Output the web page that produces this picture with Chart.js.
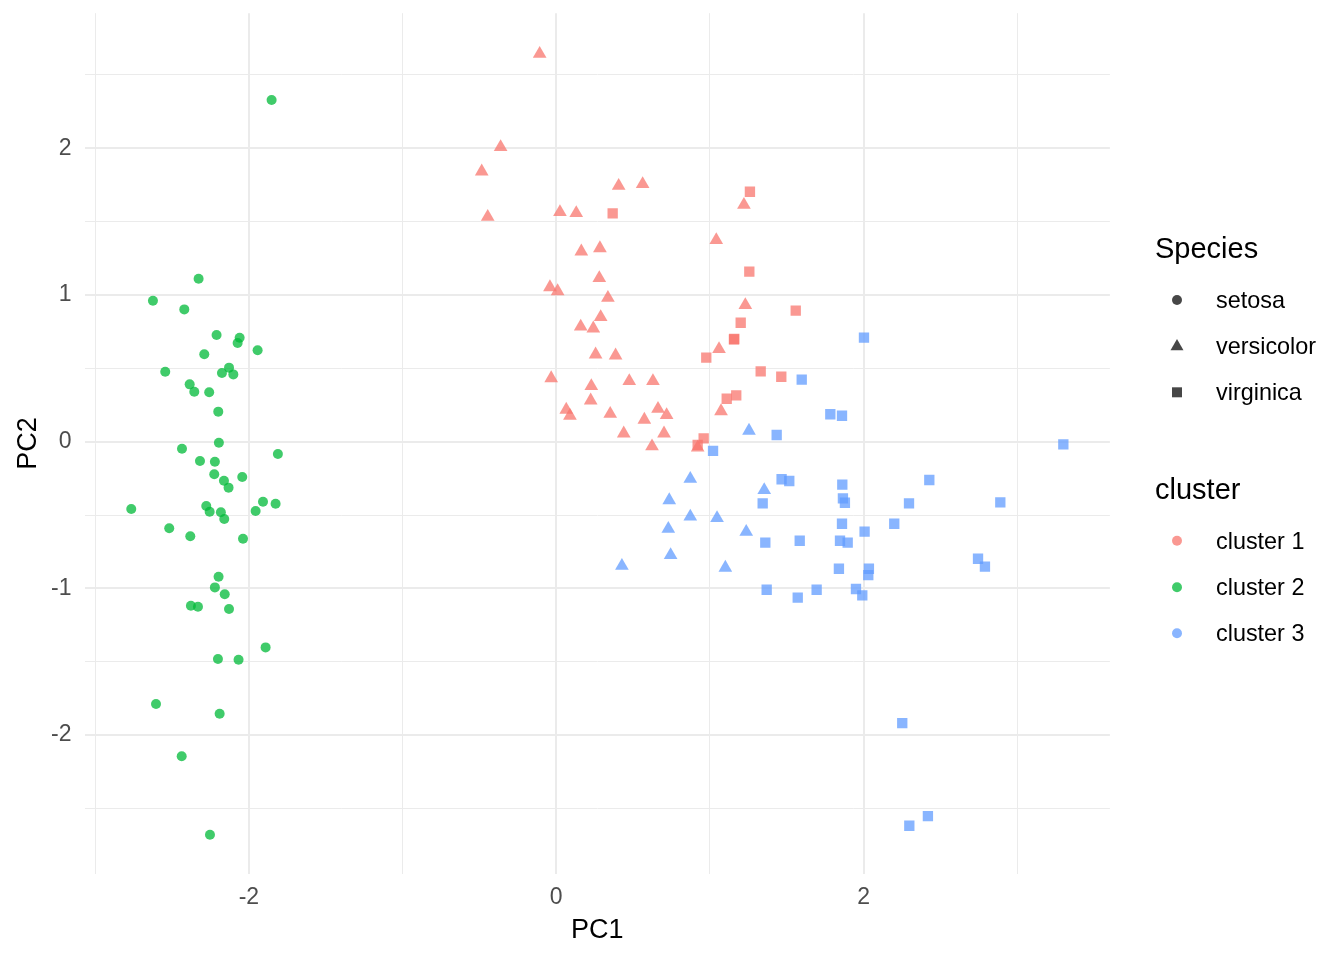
<!DOCTYPE html>
<html>
<head>
<meta charset="utf-8">
<script src="https://cdn.jsdelivr.net/npm/chart.js@4.4.1/dist/chart.umd.min.js"></script>
<style>
  html, body { margin: 0; padding: 0; background: #ffffff; }
  #wrap { position: relative; width: 1344px; height: 960px; }
</style>
</head>
<body>
<div id="wrap"><canvas id="c" width="1344" height="960"></canvas></div>
<script>
// ---------------- data ----------------
const speciesNames = ["setosa", "versicolor", "virginica"];
const clusterNames = ["cluster 1", "cluster 2", "cluster 3"];

const setosaPC1 = [-1.852, -2.327, -2.624, -2.420, -2.210, -2.060, -2.073, -2.290, -1.943, -2.544,
                   -2.129, -2.175, -2.101, -2.385, -2.355, -2.258, -2.199, -2.195, -2.435, -1.811,
                   -2.318, -2.221, -2.225, -2.043, -2.162, -2.132, -1.908, -1.826, -2.765, -2.277,
                   -2.255, -2.182, -2.160, -1.956, -2.518, -2.381, -2.038, -2.197, -2.221, -2.157,
                   -2.377, -2.331, -2.129, -1.891, -2.201, -2.067, -2.604, -2.190, -2.437, -2.253];
const setosaPC2 = [2.329, 1.111, 0.961, 0.902, 0.727, 0.709, 0.673, 0.596, 0.623, 0.477,
                   0.505, 0.468, 0.459, 0.391, 0.341, 0.337, 0.205, -0.007, -0.048, -0.084,
                   -0.132, -0.136, -0.222, -0.241, -0.266, -0.313, -0.409, -0.423, -0.459, -0.438,
                   -0.477, -0.481, -0.527, -0.472, -0.590, -0.645, -0.661, -0.920, -0.993, -1.040,
                   -1.118, -1.125, -1.140, -1.402, -1.481, -1.486, -1.788, -1.854, -2.144, -2.679];
const setosaCluster = [2,2,2,2,2,2,2,2,2,2, 2,2,2,2,2,2,2,2,2,2, 2,2,2,2,2,2,2,2,2,2,
                       2,2,2,2,2,2,2,2,2,2, 2,2,2,2,2,2,2,2,2,2];

const versicolorPC1 = [-0.108, -0.362, -0.485, -0.446, 0.406, 0.562, 0.024, 0.130, 0.163, 0.284,
                       0.280, -0.041, 0.009, 0.336, 0.289, 0.159, 0.241, 0.256, 0.386, -0.033,
                       0.228, 0.475, 0.629, 0.224, 0.065, 0.089, 0.351, 0.573, 0.439, 0.623,
                       1.221, 1.041, 1.230, 1.059, 0.662, 0.718, 1.072, 0.701, 0.920,
                       1.254, 0.872, 1.353, 0.735, 0.872, 1.046, 0.729, 1.236, 0.744, 0.427, 1.100];
const versicolorPC2 = [2.644, 2.008, 1.842, 1.533, 1.744, 1.756, 1.565, 1.558, 1.297, 1.319,
                       1.115, 1.053, 1.026, 0.981, 0.849, 0.785, 0.772, 0.595, 0.588, 0.433,
                       0.379, 0.413, 0.413, 0.281, 0.218, 0.177, 0.190, 0.150, 0.056, -0.032,
                       1.615, 1.374, 0.931, 0.631, 0.224, 0.181, 0.208, 0.056, -0.040,
                       0.075, -0.253, -0.330, -0.399, -0.510, -0.521, -0.594, -0.614, -0.773, -0.846, -0.859];
const versicolorCluster = [1,1,1,1,1,1,1,1,1,1, 1,1,1,1,1,1,1,1,1,1, 1,1,1,1,1,1,1,1,1,1,
                           1,1,1,1,1,1,1,1,1, 3,3,3,3,3,3,3,3,3,3,3];

const virginicaPC1 = [0.367, 1.260, 1.256, 1.558, 1.200, 1.156, 1.158, 0.976, 1.330, 1.464,
                      1.171, 1.109, 0.959, 0.920,
                      1.597, 1.434, 1.020, 1.466, 1.516, 1.343, 1.360, 1.584, 1.369, 1.571,
                      1.694, 2.002, 1.783, 1.859, 3.299, 1.861, 1.865, 1.878, 2.427, 2.295,
                      2.889, 1.859, 2.199, 2.006, 1.846, 1.896, 2.744, 2.789, 1.839, 2.034,
                      2.030, 1.950, 1.991, 2.251, 2.418, 2.297];
const virginicaPC2 = [1.557, 1.704, 1.159, 0.893, 0.811, 0.698, 0.700, 0.573, 0.480, 0.443,
                      0.316, 0.293, 0.023, -0.022,
                      0.423, 0.046, -0.063, -0.256, -0.268, -0.420, -0.688, -0.675, -1.009, -1.063,
                      -1.009, 0.709, 0.187, 0.177, -0.018, -0.293, -0.386, -0.416, -0.261, -0.420,
                      -0.413, -0.559, -0.559, -0.613, -0.675, -0.688, -0.798, -0.852, -0.866, -0.866,
                      -0.909, -1.004, -1.047, -1.918, -2.552, -2.618];
const virginicaCluster = [1,1,1,1,1,1,1,1,1,1, 1,1,1,1,
                          3,3,3,3,3,3,3,3,3,3, 3,3,3,3,3,3,3,3,3,3,
                          3,3,3,3,3,3,3,3,3,3, 3,3,3,3,3,3];

const xGridTicks = [-3, -2, -1, 0, 1, 2, 3];
const xLabelTicks = [-2, 0, 2];
const yGridTicks = [-2.5, -2, -1.5, -1, -0.5, 0, 0.5, 1, 1.5, 2, 2.5];
const yLabelTicks = [-2, -1, 0, 1, 2];
const xLimits = [-3.068, 3.602];
const yLimits = [-2.946, 2.921];

// ---------------- styles ----------------
const FONT = '"Liberation Sans", Arial, Helvetica, sans-serif';
const clusterColors = {1: 'rgba(248,118,109,0.75)', 2: 'rgba(0,186,56,0.75)', 3: 'rgba(97,156,255,0.75)'};
const shapeStyles = {setosa: ['circle', 5], versicolor: ['triangle', 7.9], virginica: ['rect', 7.3]};

function makeDataset(name, xs, ys, cl) {
  const [style, r] = shapeStyles[name];
  return {
    label: name,
    data: xs.map((x, i) => ({x: x, y: ys[i]})),
    pointStyle: style,
    pointRadius: r,
    pointHoverRadius: r,
    pointBorderWidth: 0,
    pointHoverBorderWidth: 0,
    pointBackgroundColor: ctx => clusterColors[cl[ctx.dataIndex]],
    pointHoverBackgroundColor: ctx => clusterColors[cl[ctx.dataIndex]],
    showLine: false
  };
}

const legendPlugin = {
  id: 'ggLegend',
  afterDraw(chart) {
    const ctx = chart.ctx;
    ctx.save();
    ctx.textAlign = 'left';
    ctx.textBaseline = 'alphabetic';
    ctx.fillStyle = '#000000';
    ctx.font = '29px ' + FONT;
    ctx.fillText('Species', 1155, 258);
    ctx.fillText('cluster', 1155, 499);

    const gx = 1177, lx = 1216;
    const sy = [300, 346.4, 392.3];
    const cy = [540.7, 587.3, 633.3];
    ctx.font = '23.4px ' + FONT;
    const keyCol = 'rgba(0,0,0,0.72)';
    speciesNames.forEach((s, i) => {
      const y = sy[i];
      ctx.fillStyle = keyCol;
      ctx.beginPath();
      if (s === 'setosa') {
        ctx.arc(gx, y, 5, 0, Math.PI * 2);
      } else if (s === 'versicolor') {
        const r = 7.5;
        ctx.moveTo(gx, y - r);
        ctx.lineTo(gx + r * 0.866, y + r / 2);
        ctx.lineTo(gx - r * 0.866, y + r / 2);
        ctx.closePath();
      } else {
        ctx.rect(gx - 5, y - 5, 10, 10);
      }
      ctx.fill();
      ctx.fillStyle = '#000000';
      ctx.fillText(s, lx, y + 8);
    });
    clusterNames.forEach((c, i) => {
      const y = cy[i];
      ctx.fillStyle = clusterColors[i + 1];
      ctx.beginPath();
      ctx.arc(gx, y, 5, 0, Math.PI * 2);
      ctx.fill();
      ctx.fillStyle = '#000000';
      ctx.fillText(c, lx, y + 8);
    });
    ctx.restore();
  }
};

const gridWidth = (majors) => ctx => (ctx.tick && majors.includes(ctx.tick.value)) ? 2 : 1;

new Chart(document.getElementById('c'), {
  type: 'scatter',
  data: {
    datasets: [
      makeDataset('setosa', setosaPC1, setosaPC2, setosaCluster),
      makeDataset('versicolor', versicolorPC1, versicolorPC2, versicolorCluster),
      makeDataset('virginica', virginicaPC1, virginicaPC2, virginicaCluster)
    ]
  },
  options: {
    responsive: false,
    animation: false,
    devicePixelRatio: 1,
    layout: { padding: { top: 13.2, right: 234.1, bottom: 0, left: 0 } },
    plugins: { legend: { display: false }, tooltip: { enabled: false } },
    scales: {
      x: {
        type: 'linear',
        min: xLimits[0], max: xLimits[1],
        afterBuildTicks: s => { s.ticks = xGridTicks.map(v => ({value: v})); },
        afterFit: s => { s.height = 86.1; s.paddingLeft = 0; s.paddingRight = 0; },
        border: { display: false },
        grid: { color: '#EBEBEB', lineWidth: gridWidth(xLabelTicks), drawTicks: false },
        ticks: {
          autoSkip: false, maxRotation: 0, padding: 10,
          color: '#4D4D4D', font: { family: FONT, size: 23 },
          callback: v => xLabelTicks.includes(v) ? String(v) : ''
        },
        title: { display: true, text: 'PC1', color: '#000000',
                 font: { family: FONT, size: 27 }, padding: { top: 0, bottom: 12.8 } }
      },
      y: {
        type: 'linear',
        min: yLimits[0], max: yLimits[1],
        afterBuildTicks: s => { s.ticks = yGridTicks.map(v => ({value: v})); },
        afterFit: s => { s.width = 84.7; s.paddingTop = 0; s.paddingBottom = 0; },
        border: { display: false },
        grid: { color: '#EBEBEB', lineWidth: gridWidth(yLabelTicks), drawTicks: false },
        ticks: {
          autoSkip: false, padding: 13.2,
          color: '#4D4D4D', font: { family: FONT, size: 23 },
          callback: v => yLabelTicks.includes(v) ? String(v) : ''
        },
        title: { display: true, text: 'PC2', color: '#000000',
                 font: { family: FONT, size: 27 }, padding: { top: 12.2, bottom: 0 } }
      }
    }
  },
  plugins: [legendPlugin]
});
</script>
</body>
</html>
